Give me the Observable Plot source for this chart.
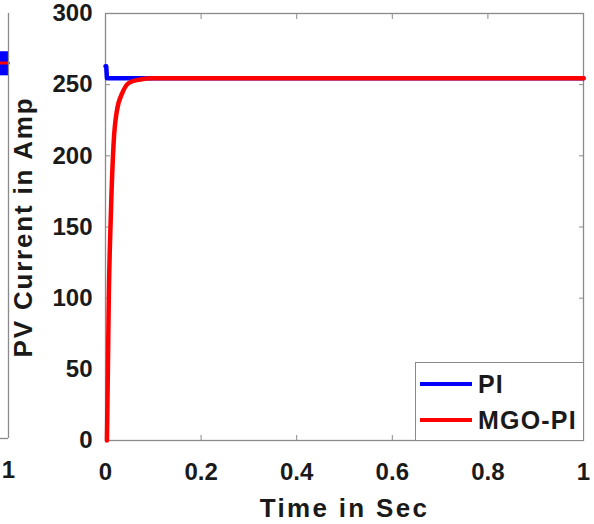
<!DOCTYPE html>
<html>
<head>
<meta charset="utf-8">
<script src="https://cdn.jsdelivr.net/npm/d3@7"></script>
<script src="https://cdn.jsdelivr.net/npm/@observablehq/plot@0.6"></script>
<style>
  html, body { margin: 0; padding: 0; background: #fff; }
  #wrap { position: relative; width: 594px; height: 524px; overflow: hidden; background: #fff; }
  #wrap svg { position: absolute; top: 0; }
  g[aria-label="x-axis label"] text { letter-spacing: 2.3px; font-size: 26px; }
  g[aria-label="y-axis label"] text { letter-spacing: 1.8px; font-size: 26px; }
  #legend {
    position: absolute; left: 415px; top: 362px; width: 167px; height: 77px;
    border: 1.3px solid #8a8a8a; background: #fff;
    font-family: "Liberation Sans", Arial, sans-serif; font-weight: bold; font-size: 25px; color: #1a1a1a;
    letter-spacing: 1.2px;
  }
  .row { position: absolute; left: 4px; height: 28px; display: flex; align-items: center; }
  .swatch { width: 52px; height: 4px; margin-right: 6px; }
</style>
</head>
<body>
<div id="wrap"></div>
<script>
// ---- data ----
const xTicks = [0, 0.2, 0.4, 0.6, 0.8, 1];
const yTicks = [0, 50, 100, 150, 200, 250, 300];

const piTime    = [0, 0.0015, 0.003, 0.04, 1];
const piCurrent = [263, 263, 254.5, 254.5, 254.5];

const mgoTime    = [0.003, 0.005, 0.007, 0.0095, 0.0125, 0.017, 0.024, 0.035, 0.048, 0.07, 0.1, 1];
const mgoCurrent = [0, 50, 103, 140, 173, 209, 232, 244, 251, 253.5, 254.5, 254.5];

// fragment of the neighbouring panel, visible at the left edge
const leftTime = [0.95, 1];
const leftPiLow = [256, 256];
const leftPiHigh = [273, 273];
const leftMgo = [265, 265];
const leftXTicks = [1];

const piColor = "#0000ff";
const mgoColor = "#ff0000";
const axisGrey = "#8a8a8a";

const pi = piTime.map((t, i) => ({t, v: piCurrent[i]}));
const mgo = mgoTime.map((t, i) => ({t, v: mgoCurrent[i]}));
const left = leftTime.map((t, i) => ({t, lo: leftPiLow[i], hi: leftPiHigh[i], m: leftMgo[i]}));

const font = {fontFamily: "'Liberation Sans', Arial, sans-serif", fontSize: "24px", fontWeight: "bold", color: "#1a1a1a", background: "transparent"};

const main = Plot.plot({
  width: 594, height: 524,
  marginLeft: 105, marginRight: 11, marginTop: 13, marginBottom: 84,
  style: font,
  x: {domain: [0, 1]},
  y: {domain: [0, 300]},
  marks: [
    Plot.frame({stroke: axisGrey, strokeWidth: 1.3}),
    Plot.axisX({ticks: xTicks, tickFormat: d => String(d), tickSize: -5, tickPadding: 27, stroke: axisGrey,
      label: "Time in Sec", labelAnchor: "center", labelArrow: "none", labelOffset: 76}),
    Plot.axisX({anchor: "top", ticks: xTicks, tickFormat: () => "", tickSize: -5, stroke: axisGrey, label: null}),
    Plot.axisY({ticks: yTicks, tickFormat: d => String(d), tickSize: -5, tickPadding: 18, stroke: axisGrey,
      label: "PV Current in Amp", labelAnchor: "center", labelArrow: "none", labelOffset: 92}),
    Plot.axisY({anchor: "right", ticks: yTicks, tickFormat: () => "", tickSize: -5, stroke: axisGrey, label: null}),
    Plot.line(pi, {x: "t", y: "v", stroke: piColor, strokeWidth: 4.5}),
    Plot.line(mgo, {x: "t", y: "v", stroke: mgoColor, strokeWidth: 4.5, curve: "monotone-x"})
  ]
});

const frag = Plot.plot({
  width: 30, height: 524,
  marginLeft: 0, marginRight: 22, marginTop: 13, marginBottom: 86,
  style: font,
  x: {domain: [0.95, 1]},
  y: {domain: [0, 300], axis: null},
  marks: [
    Plot.areaY(left, {x: "t", y1: "lo", y2: "hi", fill: piColor}),
    Plot.lineY(left, {x: "t", y: "m", stroke: mgoColor, strokeWidth: 3}),
    Plot.ruleX([1], {stroke: axisGrey, strokeWidth: 1.3}),
    Plot.ruleY([0], {stroke: axisGrey, strokeWidth: 1.3}),
    Plot.axisX({ticks: leftXTicks, tickFormat: d => String(d), tickSize: 0, tickPadding: 22, label: null})
  ]
});

const wrap = document.getElementById("wrap");
frag.style.left = "0px";
main.style.left = "0px";
wrap.appendChild(main);
wrap.appendChild(frag);

const legend = document.createElement("div");
legend.id = "legend";
legend.innerHTML = `
  <div class="row" style="top:7px"><div class="swatch" style="background:${piColor}"></div><span>PI</span></div>
  <div class="row" style="top:43px"><div class="swatch" style="background:${mgoColor}"></div><span>MGO-PI</span></div>`;
wrap.appendChild(legend);
</script>
</body>
</html>
